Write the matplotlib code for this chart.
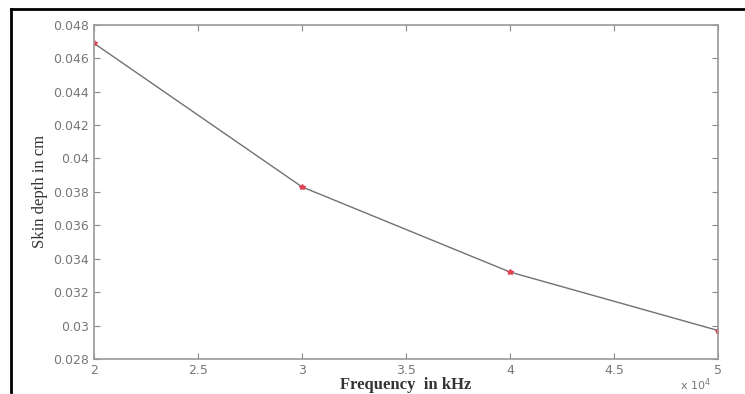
import matplotlib.pyplot as plt
from matplotlib.lines import Line2D

# frequency (x 10^4) and skin depth in cm
freq = [20000, 30000, 40000, 50000]
depth = [0.0469, 0.0383, 0.0332, 0.0297]
xticks = [20000, 25000, 30000, 35000, 40000, 45000, 50000]
xticklabels = ['2', '2.5', '3', '3.5', '4', '4.5', '5']
yticks = [0.028, 0.03, 0.032, 0.034, 0.036, 0.038, 0.04, 0.042, 0.044, 0.046, 0.048]
yticklabels = ['0.028', '0.03', '0.032', '0.034', '0.036', '0.038', '0.04',
               '0.042', '0.044', '0.046', '0.048']

fig = plt.figure(figsize=(7.45, 3.94), dpi=100)
ax = fig.add_axes([0.126, 0.089, 0.838, 0.848])

ax.plot(freq, depth, color='#707078', lw=1.0)
ax.plot(freq, depth, ls='none', marker='*', color='#e04050', ms=4)

ax.set_xlim(20000, 50000)
ax.set_ylim(0.028, 0.048)
ax.set_xticks(xticks)
ax.set_xticklabels(xticklabels)
ax.set_yticks(yticks)
ax.set_yticklabels(yticklabels)
ax.tick_params(direction='in', top=True, right=True, length=4, width=0.8,
               color='#888888', labelcolor='#777777', labelsize=9)
for s in ax.spines.values():
    s.set_color('#999999')
    s.set_linewidth(1.2)

ax.set_ylabel('Skin depth in cm', family='Liberation Serif', fontsize=12,
              color='#333333', labelpad=4)
ax.set_xlabel('Frequency  in kHz', family='Liberation Serif', fontsize=12,
              fontweight='bold', color='#333333', labelpad=0)
fig.text(0.913, 0.012, r'x 10$^4$', fontsize=8, color='#777777')

# black frame lines of the original image
fig.add_artist(Line2D([0.015, 1.0], [0.977, 0.977], color='black', lw=2))
fig.add_artist(Line2D([0.015, 0.015], [0.005, 0.977], color='black', lw=2))

fig.savefig('out.png')
